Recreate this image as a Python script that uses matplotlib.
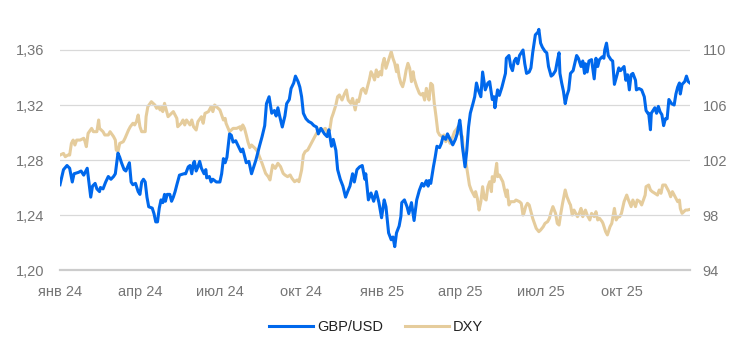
import pandas as pd
import matplotlib
matplotlib.use("Agg")
import matplotlib.pyplot as plt
from matplotlib.ticker import FuncFormatter

plt.rcParams['font.family'] = ['Liberation Sans', 'DejaVu Sans']

# days since 2024-01-01 and values
gbp_days = [0, 4, 8, 11, 14, 16, 21, 24, 27, 31, 35, 37, 40, 42, 45, 46, 49, 52, 55, 58,
            61, 63, 66, 68, 70, 73, 75, 79, 81, 83, 86, 89, 91, 93, 95, 97, 99, 101, 105, 107,
            109, 111, 113, 115, 117, 119, 120, 122, 125, 127, 129, 131, 133, 136, 141, 143, 146, 148, 150, 152,
            153, 155, 157, 159, 161, 164, 166, 167, 170, 172, 174, 178, 182, 184, 186, 188, 190, 193, 195, 197,
            200, 203, 206, 208, 210, 212, 215, 218, 220, 223, 227, 230, 233, 235, 238, 241, 244, 246, 248, 250,
            253, 256, 258, 261, 263, 266, 268, 271, 273, 275, 277, 280, 283, 286, 289, 292, 294, 297, 301, 304,
            306, 309, 311, 314, 316, 319, 322, 325, 328, 330, 333, 335, 338, 341, 344, 347, 348, 351, 354, 357,
            360, 363, 366, 369, 371, 374, 377, 379, 381, 383, 386, 388, 389, 392, 395, 397, 400, 403, 406, 409,
            412, 414, 417, 419, 420, 422, 425, 427, 429, 432, 434, 436, 439, 441, 444, 447, 450, 452, 455, 456,
            458, 461, 463, 465, 467, 470, 472, 474, 476, 479, 481, 484, 487, 489, 492, 494, 495, 498, 500, 503,
            507, 508, 511, 513, 515, 517, 519, 521, 523, 525, 527, 529, 531, 534, 536, 538, 541, 544, 545, 547,
            549, 552, 554, 556, 559, 561, 564, 566, 568, 569, 571, 573, 575, 577, 579, 581, 584, 588, 590, 593,
            595, 597, 598, 600, 602, 605, 608, 610, 612, 614, 617, 619, 620, 622, 624, 627, 629, 631, 634, 636,
            638, 642, 644, 646, 648, 650, 652, 655, 656, 659, 662, 665, 667, 669, 670, 672, 673, 675, 677, 679,
            681, 683, 685, 687, 689, 691, 693, 696, 699, 701, 703, 705, 706, 708, 711, 713, 715, 717]
gbp = [1.262, 1.273, 1.276, 1.274, 1.264, 1.270, 1.271, 1.272, 1.269, 1.274, 1.253, 1.261, 1.263, 1.259, 1.257, 1.260, 1.259, 1.264, 1.268, 1.266,
       1.268, 1.270, 1.285, 1.282, 1.278, 1.273, 1.272, 1.278, 1.264, 1.262, 1.263, 1.257, 1.255, 1.264, 1.266, 1.264, 1.253, 1.246, 1.245, 1.241,
       1.235, 1.235, 1.245, 1.251, 1.249, 1.255, 1.250, 1.255, 1.255, 1.250, 1.253, 1.257, 1.262, 1.269, 1.270, 1.270, 1.275, 1.276, 1.270, 1.278,
       1.279, 1.272, 1.275, 1.279, 1.274, 1.270, 1.273, 1.267, 1.268, 1.264, 1.266, 1.264, 1.264, 1.270, 1.281, 1.278, 1.282, 1.299, 1.298, 1.293,
       1.294, 1.290, 1.286, 1.288, 1.283, 1.278, 1.279, 1.270, 1.274, 1.280, 1.290, 1.297, 1.305, 1.321, 1.326, 1.314, 1.316, 1.312, 1.318, 1.312,
       1.304, 1.312, 1.321, 1.324, 1.332, 1.336, 1.341, 1.337, 1.333, 1.326, 1.314, 1.310, 1.308, 1.307, 1.305, 1.304, 1.299, 1.303, 1.299, 1.297,
       1.302, 1.290, 1.295, 1.287, 1.273, 1.266, 1.261, 1.253, 1.258, 1.261, 1.270, 1.264, 1.273, 1.275, 1.276, 1.266, 1.270, 1.251, 1.256, 1.250,
       1.257, 1.249, 1.238, 1.251, 1.246, 1.227, 1.222, 1.224, 1.217, 1.227, 1.232, 1.239, 1.249, 1.251, 1.246, 1.241, 1.249, 1.236, 1.251, 1.258,
       1.263, 1.261, 1.265, 1.261, 1.265, 1.263, 1.275, 1.282, 1.290, 1.289, 1.292, 1.297, 1.295, 1.299, 1.295, 1.291, 1.295, 1.299, 1.309, 1.304,
       1.290, 1.275, 1.287, 1.304, 1.314, 1.321, 1.326, 1.336, 1.331, 1.326, 1.344, 1.331, 1.336, 1.337, 1.324, 1.326, 1.318, 1.331, 1.327, 1.333,
       1.343, 1.354, 1.356, 1.348, 1.345, 1.352, 1.354, 1.350, 1.356, 1.358, 1.360, 1.350, 1.343, 1.344, 1.347, 1.358, 1.371, 1.373, 1.375, 1.365,
       1.362, 1.359, 1.358, 1.348, 1.341, 1.342, 1.345, 1.352, 1.358, 1.343, 1.336, 1.330, 1.321, 1.327, 1.331, 1.343, 1.345, 1.356, 1.354, 1.348,
       1.352, 1.343, 1.350, 1.344, 1.352, 1.353, 1.339, 1.354, 1.348, 1.353, 1.355, 1.354, 1.360, 1.365, 1.356, 1.353, 1.352, 1.335, 1.342, 1.347,
       1.345, 1.348, 1.338, 1.342, 1.331, 1.342, 1.343, 1.338, 1.331, 1.332, 1.331, 1.326, 1.316, 1.314, 1.314, 1.302, 1.314, 1.316, 1.318, 1.314,
       1.319, 1.315, 1.313, 1.305, 1.310, 1.310, 1.324, 1.321, 1.320, 1.328, 1.333, 1.336, 1.328, 1.335, 1.337, 1.341, 1.337, 1.336]

dxy_days = [0, 4, 6, 9, 11, 13, 15, 17, 19, 23, 27, 28, 30, 32, 36, 38, 42, 44, 45, 49,
            51, 55, 57, 61, 63, 64, 66, 68, 72, 74, 78, 80, 83, 85, 87, 89, 91, 93, 97, 98,
            100, 104, 108, 110, 112, 114, 116, 117, 119, 121, 123, 127, 129, 133, 134, 138, 140, 142, 144, 148,
            150, 152, 155, 157, 161, 163, 165, 169, 172, 174, 176, 180, 182, 186, 188, 189, 193, 197, 201, 205,
            206, 208, 210, 212, 214, 216, 218, 222, 225, 227, 230, 234, 237, 239, 241, 242, 245, 248, 251, 254,
            256, 259, 262, 264, 267, 270, 272, 275, 277, 279, 282, 285, 288, 291, 294, 296, 299, 302, 305, 307,
            309, 311, 314, 316, 318, 321, 324, 326, 328, 331, 333, 336, 338, 340, 343, 345, 348, 350, 352, 354,
            356, 358, 360, 362, 364, 366, 367, 369, 371, 374, 377, 379, 381, 383, 384, 386, 388, 390, 392, 394,
            396, 398, 400, 402, 403, 406, 409, 411, 413, 415, 417, 419, 420, 422, 424, 426, 428, 430, 432, 435,
            437, 439, 441, 444, 447, 449, 452, 453, 455, 458, 459, 461, 464, 466, 468, 470, 472, 473, 475, 477,
            479, 481, 483, 485, 487, 489, 491, 492, 494, 497, 498, 500, 502, 504, 506, 508, 509, 511, 513, 517,
            519, 523, 525, 527, 528, 530, 532, 534, 536, 538, 540, 542, 545, 547, 550, 552, 555, 557, 559, 561,
            564, 566, 568, 570, 572, 575, 577, 580, 581, 583, 585, 587, 589, 591, 593, 595, 597, 598, 600, 603,
            605, 608, 610, 612, 614, 617, 618, 621, 623, 626, 628, 631, 633, 635, 637, 639, 642, 645, 647, 650,
            652, 655, 657, 660, 662, 664, 666, 667, 670, 672, 674, 677, 680, 682, 684, 686, 689, 691, 693, 695,
            697, 700, 703, 705, 706, 708, 710, 712, 714, 717]
dxy = [102.36, 102.48, 102.24, 102.36, 102.36, 103.21, 103.45, 103.09, 103.45, 103.45, 103.58, 103.45, 102.97, 103.94, 104.30, 104.06, 104.06, 104.91, 104.30, 104.06,
       103.82, 103.82, 104.06, 103.70, 103.45, 102.73, 102.61, 103.21, 103.33, 103.58, 104.18, 104.42, 104.67, 104.55, 104.79, 105.27, 104.42, 104.06, 104.06, 105.15,
       105.88, 106.24, 106.00, 105.76, 105.88, 105.64, 105.88, 105.52, 106.12, 105.64, 105.15, 105.39, 105.52, 105.03, 104.42, 104.67, 104.91, 104.55, 104.91, 104.55,
       104.91, 104.42, 104.18, 104.79, 105.15, 104.67, 105.39, 105.52, 105.88, 105.52, 106.00, 105.76, 105.64, 104.91, 105.03, 104.67, 104.06, 104.30, 104.30, 104.42,
       104.18, 104.55, 104.30, 103.82, 103.30, 102.90, 103.09, 102.85, 102.60, 102.24, 101.76, 101.03, 100.79, 100.55, 101.27, 101.64, 101.39, 101.76, 101.52, 101.03,
       100.91, 100.79, 100.91, 100.67, 100.42, 100.55, 100.42, 101.27, 102.36, 102.61, 102.73, 103.09, 103.45, 103.82, 104.18, 104.30, 104.18, 104.30, 103.94, 104.18,
       105.03, 105.39, 106.00, 106.61, 106.73, 106.36, 106.85, 107.09, 106.36, 106.12, 106.48, 105.64, 106.36, 106.24, 107.09, 107.21, 106.85, 107.33, 107.82, 108.42,
       108.18, 107.82, 108.55, 108.06, 108.42, 108.18, 108.91, 109.39, 108.67, 109.27, 109.88, 109.39, 109.03, 108.42, 108.91, 108.06, 107.58, 107.33, 107.82, 108.55,
       109.03, 108.67, 107.70, 108.42, 107.94, 107.33, 106.85, 106.73, 106.85, 106.36, 107.21, 106.61, 106.36, 107.58, 107.45, 106.12, 105.15, 104.06, 103.82, 103.70,
       103.82, 103.33, 103.70, 103.21, 103.70, 104.06, 104.30, 104.42, 103.94, 103.70, 102.61, 102.24, 101.03, 100.18, 99.82, 99.58, 99.33, 99.70, 99.21, 98.36,
       98.97, 100.06, 99.21, 99.09, 100.06, 100.42, 99.70, 100.79, 100.42, 101.76, 100.79, 100.91, 100.67, 100.42, 99.82, 99.33, 99.82, 98.73, 98.97, 98.97,
       99.09, 98.97, 98.85, 98.00, 98.12, 98.61, 98.85, 98.73, 98.24, 97.76, 97.39, 97.03, 96.79, 96.91, 97.15, 97.39, 97.52, 97.76, 98.24, 98.61,
       98.12, 97.39, 97.27, 98.12, 98.85, 99.82, 99.33, 98.85, 98.73, 98.00, 98.36, 98.12, 97.88, 98.12, 98.48, 97.88, 98.24, 98.36, 98.00, 97.64,
       98.12, 97.88, 98.24, 97.64, 97.76, 97.52, 97.39, 96.79, 96.55, 97.15, 97.39, 98.48, 97.64, 97.88, 97.88, 98.12, 98.97, 99.45, 99.09, 98.61,
       99.09, 98.61, 99.09, 98.97, 98.73, 99.09, 99.45, 100.06, 100.18, 99.82, 99.70, 99.58, 99.45, 99.82, 99.58, 100.18, 100.18, 99.94, 99.70, 99.33,
       99.70, 99.33, 98.97, 99.09, 98.48, 98.12, 98.24, 98.36, 98.36, 98.41]

tick_dates = ['2024-01-01', '2024-04-01', '2024-07-01', '2024-10-01',
              '2025-01-01', '2025-04-01', '2025-07-01', '2025-10-01']
tick_labels = ['янв 24', 'апр 24', 'июл 24', 'окт 24', 'янв 25', 'апр 25', 'июл 25', 'окт 25']
left_ticks = [1.20, 1.24, 1.28, 1.32, 1.36]
right_ticks = [94, 98, 102, 106, 110]

start = pd.Timestamp('2024-01-01')
gbp_x = start + pd.to_timedelta(gbp_days, unit='D')
dxy_x = start + pd.to_timedelta(dxy_days, unit='D')

fig = plt.figure(figsize=(7.46, 3.55), dpi=100)
ax = fig.add_axes([0.0804, 0.2394, 0.8445, 0.7166])
ax2 = ax.twinx()
ax.set_zorder(ax2.get_zorder() + 1)
ax.patch.set_visible(False)

blue, tan = '#0068ec', '#e5cc9c'
l2, = ax2.plot(dxy_x, dxy, color=tan, lw=2.2, solid_joinstyle='round')
l1, = ax.plot(gbp_x, gbp, color=blue, lw=2.2, solid_joinstyle='round')

ax.set_ylim(1.20, 1.385)
ax2.set_ylim(94, 112.5)
ax.set_yticks(left_ticks)
ax2.set_yticks(right_ticks)
ax.yaxis.set_major_formatter(FuncFormatter(lambda v, p: f'{v:.2f}'.replace('.', ',')))
ax.set_xlim(start, start + pd.Timedelta(days=717))
ax.set_xticks(pd.to_datetime(tick_dates))
ax.set_xticklabels(tick_labels)

ax.grid(axis='y', color='#d9d9d9', lw=0.9)
ax.set_axisbelow(True)
for a in (ax, ax2):
    for s in a.spines.values():
        s.set_visible(False)
ax.spines['bottom'].set_visible(True)
ax.spines['bottom'].set_color('#cccccc')
ax.spines['bottom'].set_linewidth(1.6)

ax.tick_params(axis='y', length=0, pad=11, labelsize=10.5, labelcolor='#757575')
ax2.tick_params(axis='y', length=0, pad=9, labelsize=10.5, labelcolor='#757575')
ax.tick_params(axis='x', length=0, pad=11, labelsize=10.5, labelcolor='#757575')

fig.legend([l1, l2], ['GBP/USD', 'DXY'], loc='center', bbox_to_anchor=(0.504, 0.079),
           ncol=2, frameon=False, handlelength=3.0, handletextpad=0.3, columnspacing=1.5,
           fontsize=10.5, labelcolor='#222222')

fig.savefig('out.png', dpi=100)
